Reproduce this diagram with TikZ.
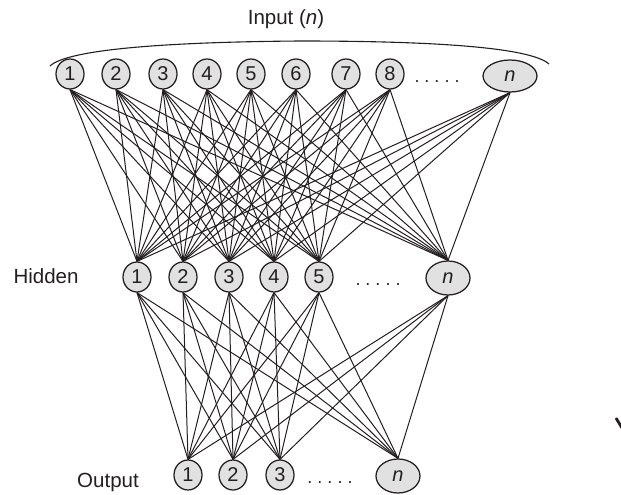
\documentclass[tikz,border=0pt]{standalone}
\usepackage{fontspec}
\setmainfont{Liberation Sans}
\usetikzlibrary{shapes.geometric}
\definecolor{ink}{HTML}{231F20}
\definecolor{nodefill}{HTML}{E1E1E1}
\begin{document}
\begin{tikzpicture}[x=1pt,y=-1pt,
  neuron/.style={ellipse, draw=ink, line width=1.25pt, fill=nodefill, inner sep=0pt,
    minimum width=28pt, minimum height=30pt, font=\fontsize{20}{20}\selectfont, text=ink},
  wideneuron/.style={neuron, minimum width=44pt, minimum height=34pt},
  link/.style={draw=ink, line width=1pt},
  layerlabel/.style={font=\fontsize{20.5}{23}\selectfont, text=ink},
  ellipsis/.style={anchor=base, inner sep=0pt, font=\fontsize{18}{18}\selectfont, text=ink}]
\useasboundingbox (0,0) rectangle (621,495);

% input layer
\foreach \i/\x in {1/70,2/116,3/163,4/207,5/251,6/296,7/346,8/390}
  \node[neuron] (i\i) at (\x,74) {\i};
\node[wideneuron, minimum width=54pt, minimum height=32pt] (iN) at (510,76) {\textit{n}};
\node[ellipsis] (idots) at (437,82) {.\ .\ .\ .\ .};

% hidden layer
\foreach \i/\x in {1/137,2/183,3/229,4/274,5/319}
  \node[neuron] (h\i) at (\x,277) {\i};
\node[wideneuron] (hN) at (448,278) {\textit{n}};
\node[ellipsis] (hdots) at (378,285) {.\ .\ .\ .\ .};

% output layer
\foreach \i/\x in {1/188,2/233,3/280}
  \node[neuron] (o\i) at (\x,475) {\i};
\node[wideneuron] (oN) at (398,476) {\textit{n}};
\node[ellipsis] (odots) at (330,483) {.\ .\ .\ .\ .};

% full connections input -> hidden
\foreach \a in {i1,i2,i3,i4,i5,i6,i7,i8,iN}
  \foreach \b in {h1,h2,h3,h4,h5,hN}
    \draw[link] (\a.south) -- (\b.north);

% full connections hidden -> output
\foreach \a in {h1,h2,h3,h4,h5,hN}
  \foreach \b in {o1,o2,o3,oN}
    \draw[link] (\a.south) -- (\b.north);

% layer labels and the brace over the inputs
\node[layerlabel] (inlabel) at (286,19) {Input (\textit{n})};
\node[layerlabel] (hidlabel) at (46,276) {Hidden};
\node[layerlabel] (outlabel) at (108,482) {Output};
\coordinate (braceL) at (50,66);
\coordinate (braceR) at (549,64);
\coordinate (braceTop) at (300,41);
\draw[ink, line width=1.1pt] (braceL) .. controls (68,49) and (170,42) .. (braceTop)
  .. controls (430,41) and (530,47) .. (braceR);

% mark at the right edge
\coordinate (markA) at (616,418);
\coordinate (markB) at (622,428);
\draw[ink, line width=2.8pt] (markA) -- (markB);
\end{tikzpicture}
\end{document}
